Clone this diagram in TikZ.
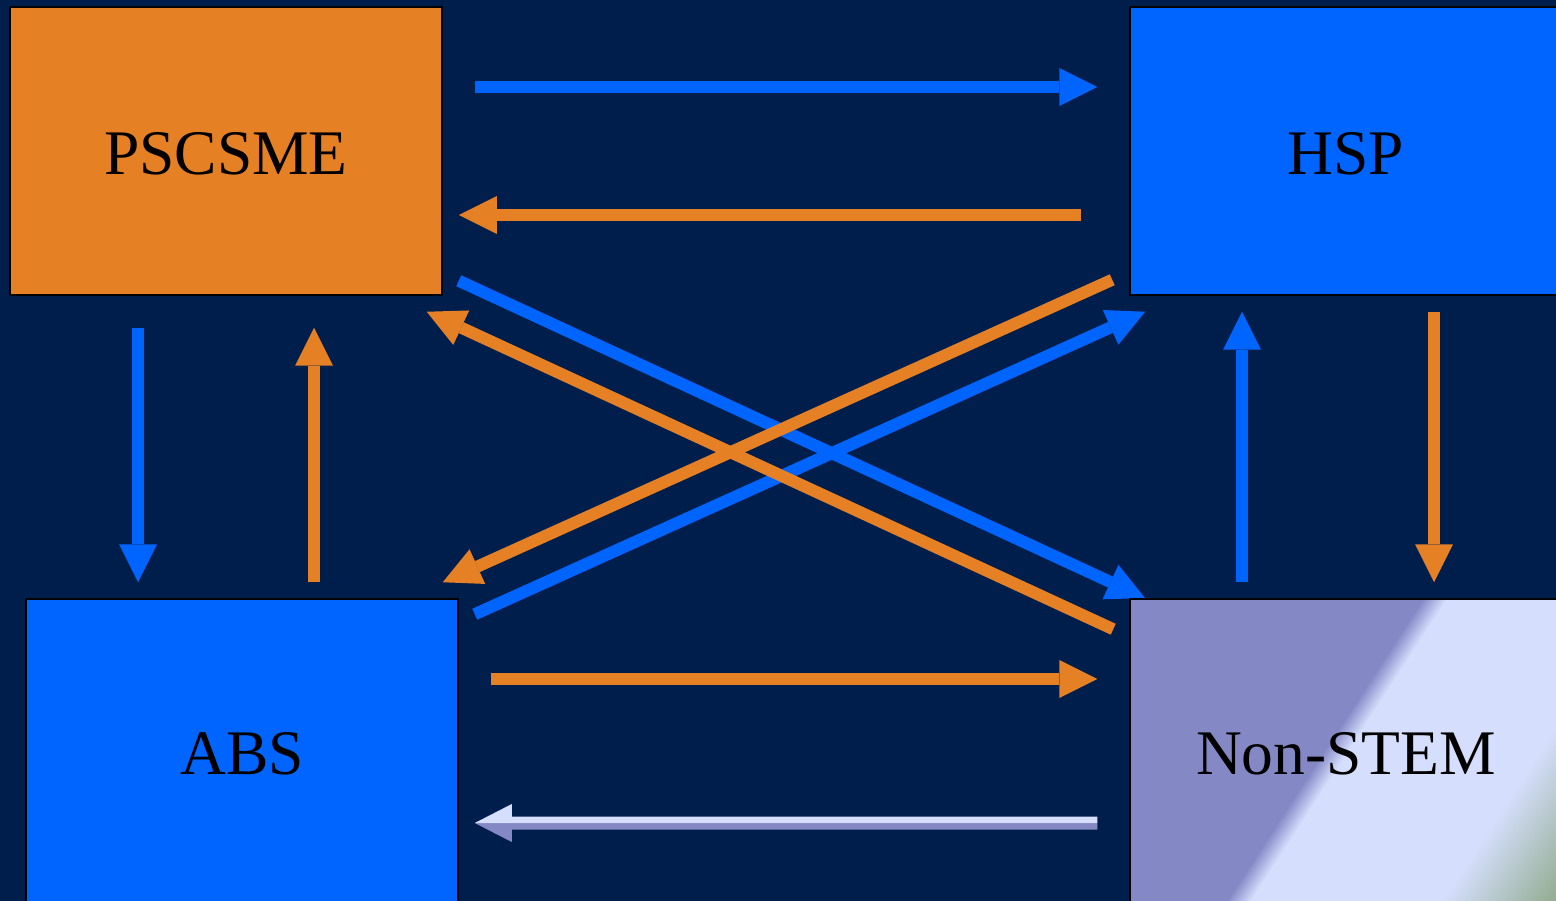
\documentclass[tikz,border=0pt]{standalone}
\usepackage{fontspec}
\setmainfont{Liberation Serif}
\usetikzlibrary{arrows.meta,calc}
\definecolor{bg}{RGB}{0,30,76}
\definecolor{arrorange}{RGB}{230,128,37}
\definecolor{arrblue}{RGB}{0,100,255}
\definecolor{nslight}{RGB}{213,222,252}
\definecolor{nspurple}{RGB}{132,137,198}
\definecolor{nsgreen}{RGB}{150,175,150}
\pgfdeclarehorizontalshading{nsshade}{100bp}{color(0bp)=(nspurple); color(48.3bp)=(nspurple); color(50bp)=(nslight); color(63.5bp)=(nslight); color(71bp)=(nsgreen); color(100bp)=(nsgreen)}
\pgfdeclareverticalshading{splitshade}{100bp}{color(0bp)=(nspurple); color(50bp)=(nspurple); color(50.01bp)=(nslight); color(100bp)=(nslight)}
\tikzset{
  box/.style={draw=black, line width=1.5pt, minimum width=432pt, minimum height=288pt,
    inner sep=0pt, font=\fontsize{63.5}{70}\selectfont, text=black},
  tallbox/.style={box, minimum height=310pt},
  tipstyle/.style={-{Triangle[length=38pt,width=38pt,line width=0pt]}},
  barrow/.style={draw=arrblue, line width=12pt, tipstyle},
  oarrow/.style={draw=arrorange, line width=12pt, tipstyle},
}
\begin{document}
\begin{tikzpicture}[x=1pt,y=-1pt]
\fill[bg] (0,0) rectangle (1556,901);
\useasboundingbox (0,0) rectangle (1556,901);

% boxes
\node[box, fill=arrorange, text height=48pt] (psc) at (226,151) {PSCSME};
\node[box, fill=arrblue, text height=48pt] (hsp) at (1346,151) {HSP};
\node[tallbox, fill=arrblue] (abs) at (242,754) {ABS};
\coordinate (nonnw) at (1130,599);

% diagonal blue arrows (below orange ones)
\draw[barrow] ([shift={(16,-15)}]psc.south east) -- ([shift={(15,-1)}]nonnw);
\draw[barrow] ([shift={(16,16)}]abs.north east) -- ([shift={(16,16)}]hsp.south west);

% Non-STEM box with diagonal gradient
\node[tallbox, path picture={
  \shade[shading=nsshade, shading angle=-33]
    ($(path picture bounding box.center)+(-300,-300)$) rectangle ++(600,600);
}] (non) at (1346,754) {Non-STEM};

% diagonal orange arrows
\draw[oarrow] ([shift={(-16,31)}]non.north west) -- ([shift={(-16,16)}]psc.south east);
\draw[oarrow] ([shift={(-17,-16)}]hsp.south west) -- ([shift={(-16,-16)}]abs.north east);

% horizontal arrows between top boxes
\draw[barrow] ([shift={(32,-64)}]psc.east) -- ([shift={(-32,-64)}]hsp.west);
\draw[oarrow] ([shift={(-48,64)}]hsp.west) -- ([shift={(16,64)}]psc.east);

% vertical arrows on the left
\draw[barrow] ([shift={(-88,32)}]psc.south) -- ([shift={(-104,-16)}]abs.north);
\draw[oarrow] ([shift={(72,-16)}]abs.north) -- ([shift={(88,32)}]psc.south);

% vertical arrows on the right
\draw[barrow] ([shift={(-104,-16)}]non.north) -- ([shift={(-104,16)}]hsp.south);
\draw[oarrow] ([shift={(88,16)}]hsp.south) -- ([shift={(88,-16)}]non.north);

% horizontal arrows between bottom boxes
\draw[oarrow] ([shift={(32,-75)}]abs.east) -- ([shift={(-32,-75)}]non.west);

% two-tone arrow from Non-STEM to ABS
\coordinate (gtail) at ([shift={(-32,69)}]non.west);
\coordinate (ghead) at ([shift={(16,69)}]abs.east);
\shade[shading=splitshade]
  ($(gtail)+(0,-6.5)$) -- ($(ghead)+(37,-6.5)$) -- ($(ghead)+(37,-19)$) -- (ghead)
  -- ($(ghead)+(37,19)$) -- ($(ghead)+(37,6.5)$) -- ($(gtail)+(0,6.5)$) -- cycle;
\end{tikzpicture}
\end{document}
